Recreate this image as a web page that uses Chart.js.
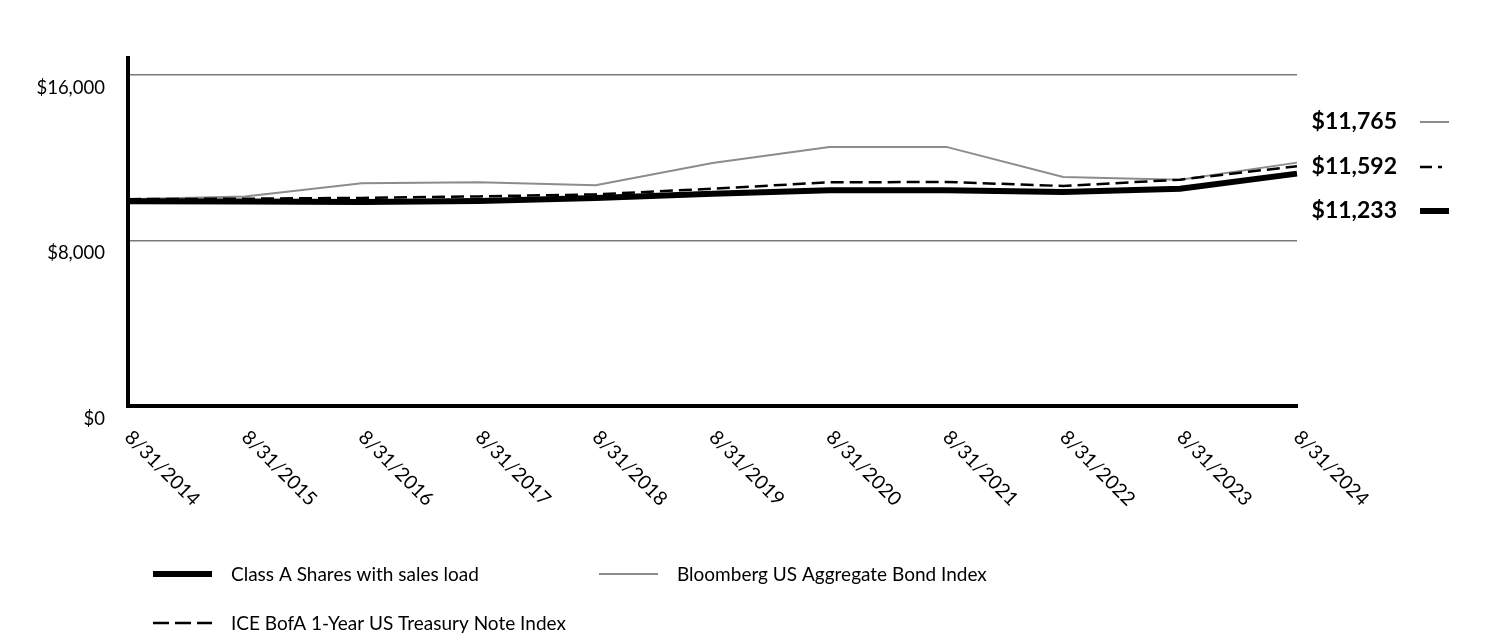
<!DOCTYPE html>
<html>
<head>
<meta charset="utf-8">
<script src="https://cdn.jsdelivr.net/npm/chart.js@4.4.1/dist/chart.umd.min.js"></script>
<style>
  html, body { margin: 0; padding: 0; background: #fff; }
  #wrap { width: 1512px; height: 636px; position: relative; }
</style>
</head>
<body>
<div id="wrap"><canvas id="growth"></canvas></div>
<script>
// data
const years = ['8/31/2014', '8/31/2015', '8/31/2016', '8/31/2017', '8/31/2018', '8/31/2019',
               '8/31/2020', '8/31/2021', '8/31/2022', '8/31/2023', '8/31/2024'];
const classA = [9900, 9880, 9860, 9915, 10050, 10260, 10424, 10430, 10343, 10505, 11233];
const bloomberg = [10000, 10130, 10764, 10812, 10667, 11748, 12525, 12525, 11070, 10942, 11765];
const iceBofA = [10000, 10020, 10060, 10133, 10230, 10505, 10812, 10830, 10635, 10942, 11592];
const yTicks = [0, 8000, 16000];

const FONT = 'Lato, "Open Sans", sans-serif';

const series = [
    { label: 'Class A Shares with sales load', data: classA, color: '#000000', width: 6, dash: [] },
    { label: 'Bloomberg US Aggregate Bond Index', data: bloomberg, color: '#8c8c8c', width: 2, dash: [] },
    { label: 'ICE BofA 1-Year US Treasury Note Index', data: iceBofA, color: '#000000', width: 2.5, dash: [13, 6] }
];

function money(v) {
    return '$' + v.toLocaleString('en-US');
}

// rotated x labels, end labels and legend
const extras = {
    id: 'extras',
    afterDraw: function(chart) {
        const ctx = chart.ctx;
        const xs = chart.scales.x;

        ctx.save();
        ctx.fillStyle = '#000';
        ctx.font = '19.5px ' + FONT;
        ctx.textAlign = 'left';
        ctx.textBaseline = 'middle';
        years.forEach(function(lbl, i) {
            const x = xs.getPixelForValue(i);
            ctx.save();
            ctx.translate(x, 434);
            ctx.rotate(Math.PI / 4);
            ctx.fillText(lbl, 0, 0);
            ctx.restore();
        });

        // end value labels, ordered top to bottom
        const ends = [
            { s: series[1], y: 122 },
            { s: series[2], y: 167 },
            { s: series[0], y: 211 }
        ];
        ctx.font = 'bold 23px ' + FONT;
        ctx.textAlign = 'right';
        ends.forEach(function(e) {
            const v = e.s.data[e.s.data.length - 1];
            ctx.fillText(money(v), 1397, e.y);
            ctx.beginPath();
            ctx.strokeStyle = e.s.color;
            ctx.lineWidth = e.s.width;
            ctx.setLineDash(e.s === series[2] ? [12, 6, 4, 20] : []);
            ctx.moveTo(1420, e.y);
            ctx.lineTo(1449, e.y);
            ctx.stroke();
        });

        // legend
        const items = [
            { s: series[0], x: 153, y: 574 },
            { s: series[1], x: 599, y: 574 },
            { s: series[2], x: 153, y: 623 }
        ];
        ctx.font = '19px ' + FONT;
        ctx.textAlign = 'left';
        items.forEach(function(it) {
            ctx.beginPath();
            ctx.strokeStyle = it.s.color;
            ctx.lineWidth = it.s.width;
            ctx.setLineDash(it.s.dash.length ? [16, 6] : []);
            ctx.moveTo(it.x, it.y);
            ctx.lineTo(it.x + 59, it.y);
            ctx.stroke();
            ctx.setLineDash([]);
            ctx.fillStyle = '#000';
            ctx.fillText(it.s.label, it.x + 78, it.y + 1);
        });
        ctx.restore();
    }
};

new Chart(document.getElementById('growth'), {
    type: 'line',
    data: {
        labels: years,
        datasets: series.map(function(s, i) {
            return {
                label: s.label,
                data: s.data,
                borderColor: s.color,
                borderWidth: s.width,
                borderDash: s.dash,
                pointRadius: 0,
                tension: 0,
                fill: false,
                order: i === 0 ? 0 : (i === 2 ? 1 : 2)
            };
        })
    },
    options: {
        responsive: true,
        maintainAspectRatio: false,
        animation: false,
        layout: { padding: { top: 58, right: 215, bottom: 230, left: 0 } },
        plugins: {
            legend: { display: false },
            tooltip: { enabled: false }
        },
        scales: {
            x: {
                offset: false,
                grid: { display: false, drawTicks: false },
                border: { display: true, color: '#000', width: 4 },
                ticks: { display: false }
            },
            y: {
                min: 0,
                max: 16822,
                afterBuildTicks: function(scale) {
                    scale.ticks = yTicks.map(function(v) { return { value: v }; });
                },
                afterFit: function(scale) { scale.width = 128; },
                grid: {
                    drawTicks: false,
                    color: function(c) { return c.tick && c.tick.value === 0 ? 'rgba(0,0,0,0)' : '#7a7a7a'; },
                    lineWidth: 1.5
                },
                border: { display: true, color: '#000', width: 4 },
                ticks: {
                    padding: 23,
                    labelOffset: 13,
                    color: '#000',
                    font: { family: FONT, size: 18.5 },
                    callback: function(v) { return money(v); }
                }
            }
        }
    },
    plugins: [extras]
});
</script>
</body>
</html>
